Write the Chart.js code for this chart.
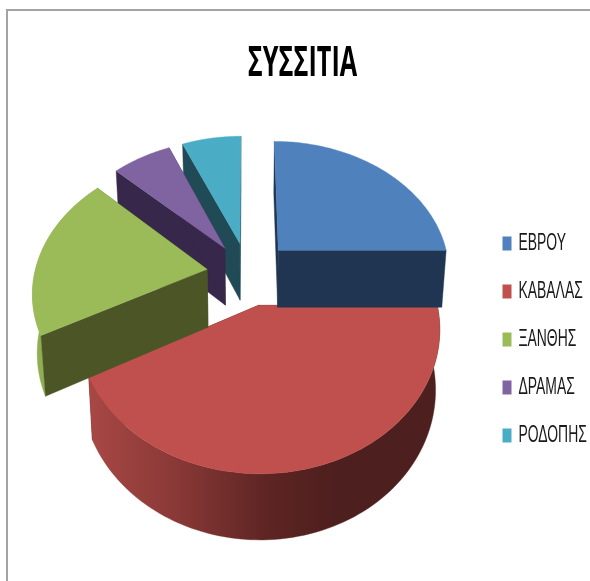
<!DOCTYPE html>
<html lang="el"><head><meta charset="utf-8">
<style>html,body{margin:0;padding:0;background:#fff;overflow:hidden}
#frame{position:absolute;left:6px;top:9px;width:590px;height:580px;border-left:2px solid #a3a3a3;border-top:2px solid #a3a3a3}
canvas{position:absolute;left:0;top:0}</style>
<script src="https://cdn.jsdelivr.net/npm/chart.js@4"></script></head>
<body><div id="frame"></div><canvas id="c" width="590" height="581"></canvas>
<script>
const titleText = 'ΣΥΣΣΙΤΙΑ';
const categories = ['ΕΒΡΟΥ','ΚΑΒΑΛΑΣ','ΞΑΝΘΗΣ','ΔΡΑΜΑΣ','ΡΟΔΟΠΗΣ'];
const values = [25, 42.2, 19.8, 6.5, 6.5];
const topColors = ['#4F81BD','#C0504D','#9BBB59','#8064A2','#4BACC6'];
const cutColors = ['#1F3552','#4D1F1E','#4B5526','#37274A','#1F4A56'];
const wallColors = [null,'#7a2f2d','#8FAD52',null,null];
const explosion = [0.255,0.24,0.24,0.24,0.24];
const paintOrder = [1,4,3,2,0];
const view = {cx:248, cy:273.5, A:172.5, B:132, k:0.152, depth:58, dk:0.1, shrink:0.978};

function pr(U,V,low){
  const w = 1 - view.k*V;
  let x = view.A*U/w, y = view.B*V/w;
  if(low){ x *= view.shrink; y += view.depth/(1-view.dk*V); }
  return [view.cx+x, view.cy+y];
}
function poly(ctx,pts,fill){
  ctx.beginPath();
  pts.forEach((p,i)=> i?ctx.lineTo(p[0],p[1]):ctx.moveTo(p[0],p[1]));
  ctx.closePath(); ctx.fillStyle=fill; ctx.fill();
  ctx.strokeStyle=fill; ctx.lineWidth=0.4; ctx.stroke();
}
const pie3d = {
  id:'pie3d',
  beforeDatasetDraw(){ return false; },
  afterDatasetsDraw(chart){
    const ctx = chart.ctx, arcs = chart.getDatasetMeta(0).data;
    paintOrder.forEach(i=>{
      const el = arcs[i], s = el.startAngle, e = el.endAngle, m=(s+e)/2;
      const ox = Math.cos(m)*explosion[i], oy = Math.sin(m)*explosion[i];
      const n = 90, at=(a,low)=>pr(ox+Math.cos(a),oy+Math.sin(a),low);
      const arcPts = low=>{const r=[];for(let j=0;j<=n;j++)r.push(at(s+(e-s)*j/n,low));return r;};
      const top = arcPts(false), bot = arcPts(true);
      const aT = pr(ox,oy,false), aB = pr(ox,oy,true);
      let wall = wallColors[i];
      if(i===1){
        const g = ctx.createLinearGradient(88,0,335,0);
        g.addColorStop(0,'#A84845'); g.addColorStop(0.35,'#8A3937');
        g.addColorStop(0.72,'#5E2523'); g.addColorStop(1,'#4D1F1E');
        wall = g;
      }
      const frontFacing = oy > 0;
      const drawWall = ()=>{ if(wall) poly(ctx,top.concat(bot.slice().reverse()),wall); };
      if(!frontFacing) drawWall();
      poly(ctx,[aT,top[0],bot[0],aB],cutColors[i]);
      poly(ctx,[aT,top[n],bot[n],aB],cutColors[i]);
      if(frontFacing) drawWall();
      poly(ctx,[aT].concat(top),topColors[i]);
    });
  },
  afterLayout(chart){
    const ctx = chart.ctx;
    const lg = chart.legend, tb = chart.titleBlock;
    if(!lg.__w){ lg.__w = true;
      const od = lg.draw.bind(lg);
      lg.draw = function(){
        const hb = lg.legendHitBoxes[0];
        ctx.save();
        ctx.translate(502.5, 231.5 - hb.top);
        ctx.scale(LEGEND_SX,1);
        ctx.translate(-hb.left,0);
        od(); ctx.restore();
      };
    }
    if(!tb.__w){ tb.__w = true;
      const od = tb.draw.bind(tb);
      tb.draw = function(){
        ctx.save();
        ctx.translate(302.5,0); ctx.scale(TITLE_SX,1); ctx.translate(-295,0);
        od(); ctx.restore();
      };
    }
  }
};
const LEGEND_SX = 0.58, TITLE_SX = 0.615;
new Chart(document.getElementById('c'),{
  type:'pie',
  data:{labels:categories,datasets:[{data:values,backgroundColor:topColors,borderWidth:0}]},
  options:{
    responsive:false, animation:false,
    layout:{padding:0},
    plugins:{
      tooltip:{enabled:false},
      title:{display:true,text:titleText,color:'#000',padding:{top:40,bottom:0},
             font:{family:'"Open Sans"',size:41,weight:'bold'}},
      legend:{display:true,position:'right',align:'start',
        labels:{boxWidth:9/LEGEND_SX,boxHeight:14,padding:24,color:'#1a1a1a',
                font:{family:'"Liberation Sans"',size:24}}}
    }
  },
  plugins:[pie3d]
});
</script></body></html>
